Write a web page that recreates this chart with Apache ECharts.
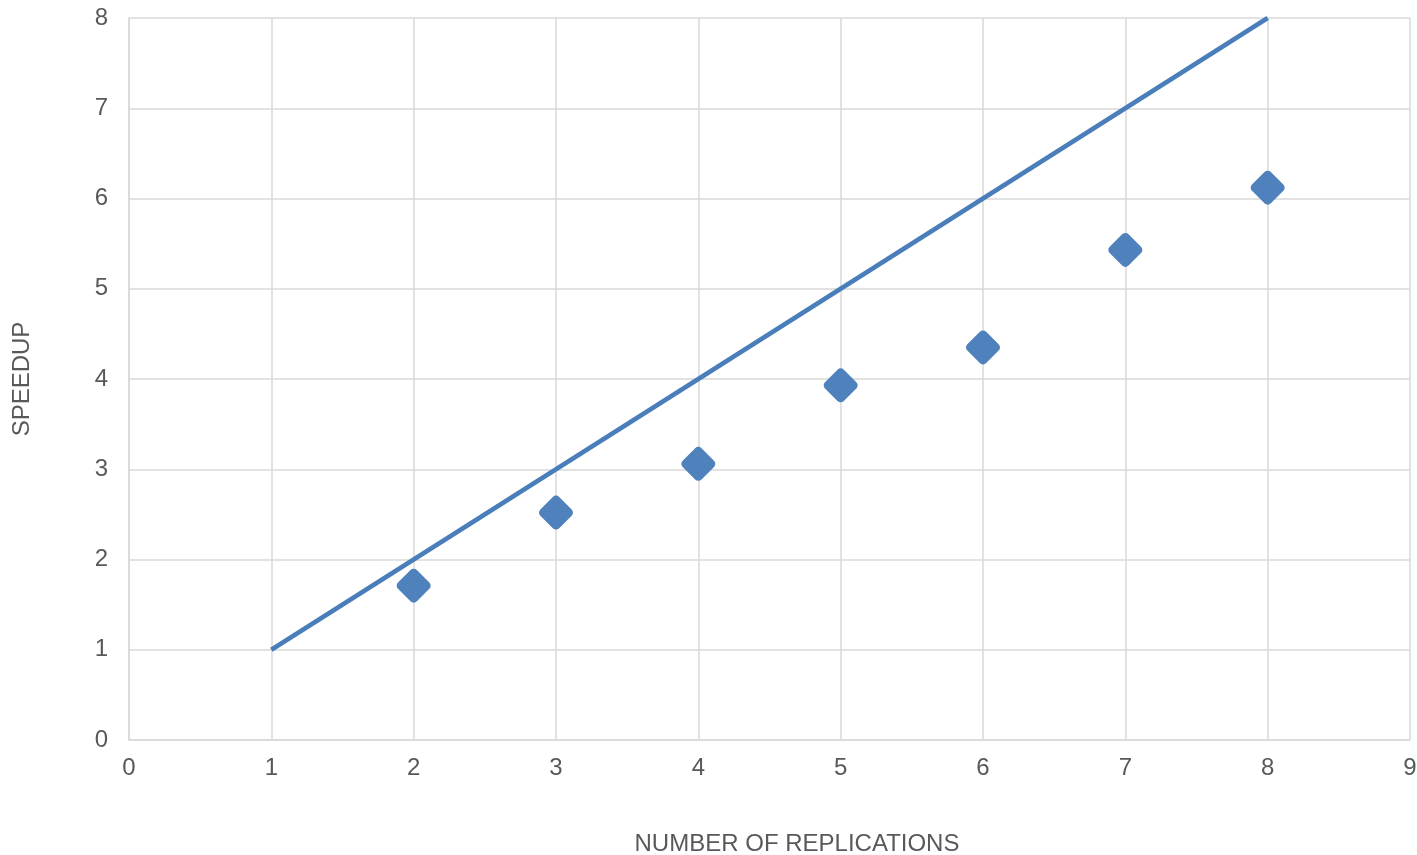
<!DOCTYPE html>
<html>
<head>
<meta charset="utf-8">
<script src="https://cdn.jsdelivr.net/npm/echarts@6/dist/echarts.min.js"></script>
<style>html,body{margin:0;padding:0;background:#fff}#c{width:1417px;height:855px}</style>
</head>
<body>
<div id="c"></div>
<script>
var idealX = [1, 8];
var idealY = [1, 8];
var replications = [2, 3, 4, 5, 6, 7, 8];
var speedup = [1.71, 2.52, 3.06, 3.93, 4.35, 5.43, 6.12];
var xTicks = [0, 1, 2, 3, 4, 5, 6, 7, 8, 9];
var yTicks = [0, 1, 2, 3, 4, 5, 6, 7, 8];

var chart = echarts.init(document.getElementById('c'));
var font = 'Liberation Sans, Arial, sans-serif';
var gridColor = '#d9d9d9';
chart.setOption({
  animation: false,
  backgroundColor: '#ffffff',
  grid: { left: 129, right: 7, top: 18, bottom: 115, containLabel: false, outerBoundsMode: 'none' },
  xAxis: {
    type: 'value', min: xTicks[0], max: xTicks[xTicks.length - 1], interval: 1,
    name: 'NUMBER OF REPLICATIONS', nameLocation: 'middle', nameGap: 92,
    nameTextStyle: { fontFamily: font, fontSize: 24, color: '#595959', padding: [0, 0, 0, 55] },
    axisLine: { lineStyle: { color: gridColor, width: 1.5 } },
    axisTick: { show: false },
    axisLabel: { fontFamily: font, fontSize: 24, color: '#595959', margin: 16 },
    splitLine: { lineStyle: { color: gridColor, width: 1.5 } }
  },
  yAxis: {
    type: 'value', min: yTicks[0], max: yTicks[yTicks.length - 1], interval: 1,
    name: 'SPEEDUP', nameLocation: 'middle', nameGap: 95, nameRotate: 90,
    nameTextStyle: { fontFamily: font, fontSize: 24, color: '#595959' },
    axisLine: { show: true, lineStyle: { color: gridColor, width: 1.5 } },
    axisTick: { show: false },
    axisLabel: { fontFamily: font, fontSize: 24, color: '#595959', margin: 21 },
    splitLine: { lineStyle: { color: gridColor, width: 1.5 } }
  },
  series: [
    {
      type: 'line',
      data: idealX.map(function (x, i) { return [x, idealY[i]]; }),
      showSymbol: false, symbol: 'none',
      lineStyle: { color: '#4a7ebb', width: 4.5 },
      z: 2
    },
    {
      type: 'scatter',
      data: replications.map(function (x, i) { return [x, speedup[i]]; }),
      symbol: 'diamond', symbolSize: [25, 25],
      itemStyle: { color: '#4f81bd', borderColor: '#4f81bd', borderWidth: 9, borderJoin: 'round', opacity: 1 },
      z: 3
    }
  ]
});
</script>
</body>
</html>
